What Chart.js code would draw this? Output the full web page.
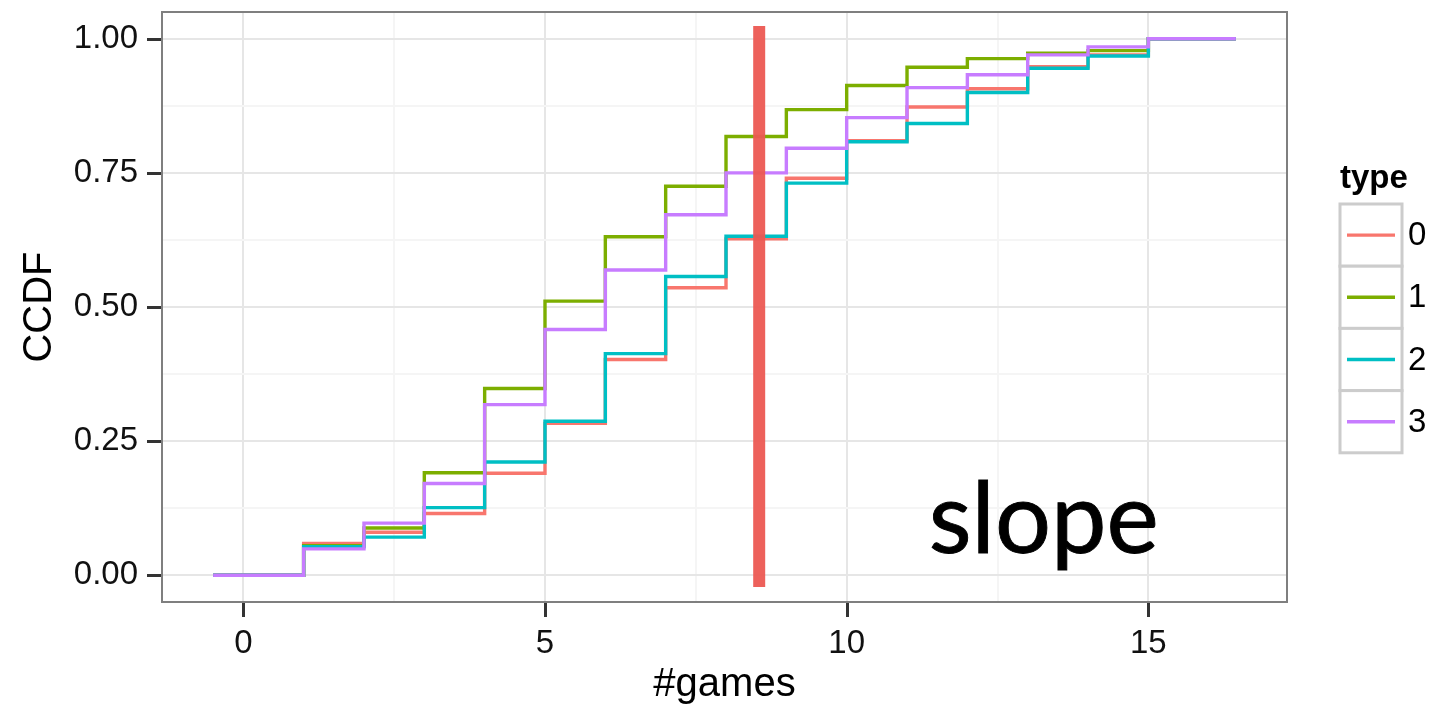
<!DOCTYPE html>
<html>
<head>
<meta charset="utf-8">
<script src="https://cdn.jsdelivr.net/npm/chart.js@4"></script>
<style>
  html, body { margin: 0; padding: 0; background: #fff; }
  #wrap { width: 1441px; height: 710px; }
</style>
</head>
<body>
<div id="wrap"><canvas id="ccdfChart" width="1441" height="710"></canvas></div>
<script>
// step positions (#games) and CCDF value per type
const games = [-0.5, 1, 2, 3, 4, 5, 6, 7, 8, 9, 10, 11, 12, 13, 14, 15, 16.45];
const types = ['0', '1', '2', '3'];
const type0 = [0, 0.059, 0.080, 0.115, 0.190, 0.283, 0.402, 0.536, 0.627, 0.740, 0.810, 0.873, 0.907, 0.948, 0.970, 1, 1];
const type1 = [0, 0.055, 0.088, 0.191, 0.348, 0.511, 0.631, 0.725, 0.818, 0.868, 0.913, 0.947, 0.963, 0.973, 0.978, 1, 1];
const type2 = [0, 0.053, 0.071, 0.126, 0.211, 0.287, 0.413, 0.557, 0.632, 0.731, 0.808, 0.842, 0.900, 0.945, 0.968, 1, 1];
const type3 = [0, 0.049, 0.097, 0.171, 0.318, 0.458, 0.569, 0.672, 0.750, 0.796, 0.853, 0.909, 0.933, 0.970, 0.985, 1, 1];
const typeColors = ['#F8766D', '#7CAE00', '#00BFC4', '#C77CFF'];

// the hand drawn "slope" mark
const slopeX = [8.55, 8.55];
const slopeY = [-0.022, 1.024];
const slopeLabel = 'slope';

const xMajorTicks = [0, 5, 10, 15];
const xMinorTicks = [2.5, 7.5, 12.5];
const yMajorTicks = [0, 0.25, 0.5, 0.75, 1];
const yMinorTicks = [0.125, 0.375, 0.625, 0.875];

const FONT = "'Liberation Sans', Arial, Helvetica, sans-serif";
const allSeries = [type0, type1, type2, type3];

function toPoints(xs, ys) {
    return xs.map((x, i) => ({ x: x, y: ys[i] }));
}

function buildTicks(major, minor) {
    return major.map(v => ({ value: v, major: true }))
        .concat(minor.map(v => ({ value: v, major: false })))
        .sort((a, b) => a.value - b.value);
}

const datasets = allSeries.map((ys, i) => ({
    label: types[i],
    data: toPoints(games, ys),
    borderColor: typeColors[i],
    borderWidth: 3.4,
    stepped: 'before',
    pointRadius: 0,
    fill: false,
    order: types.length - i
}));

datasets.push({
    label: 'slope',
    data: toPoints(slopeX, slopeY),
    borderColor: 'rgba(236, 88, 82, 0.95)',
    borderWidth: 12,
    borderCapStyle: 'butt',
    pointRadius: 0,
    fill: false,
    order: -1
});

// panel border, axis tick marks, "slope" text and ggplot style legend
const decorPlugin = {
    id: 'decor',
    afterDatasetsDraw(chart) {
        const ctx = chart.ctx;
        const a = chart.chartArea;
        const xs = chart.scales.x, ys = chart.scales.y;
        ctx.save();
        ctx.fillStyle = '#000';
        ctx.strokeStyle = '#000';
        ctx.font = "100px Lato, 'Open Sans', sans-serif";
        const w100 = ctx.measureText(slopeLabel).width;
        const size = 100 * 230 / w100;
        ctx.font = size + "px Lato, 'Open Sans', sans-serif";
        ctx.textAlign = 'left';
        ctx.textBaseline = 'alphabetic';
        const tx = xs.getPixelForValue(11.36), ty = ys.getPixelForValue(0.042);
        ctx.lineWidth = 0.9;
        ctx.fillText(slopeLabel, tx, ty);
        ctx.strokeText(slopeLabel, tx, ty);
        ctx.restore();
    },
    afterDraw(chart) {
        const ctx = chart.ctx;
        const a = chart.chartArea;
        const xs = chart.scales.x, ys = chart.scales.y;
        ctx.save();
        ctx.strokeStyle = '#7F7F7F';
        ctx.lineWidth = 2;
        ctx.strokeRect(a.left, a.top, a.right - a.left, a.bottom - a.top);

        // tick marks
        ctx.strokeStyle = '#333333';
        ctx.lineWidth = 3;
        xMajorTicks.forEach(v => {
            const px = Math.round(xs.getPixelForValue(v)) + 0.5;
            ctx.beginPath();
            ctx.moveTo(px, a.bottom + 1);
            ctx.lineTo(px, a.bottom + 15);
            ctx.stroke();
        });
        yMajorTicks.forEach(v => {
            const py = Math.round(ys.getPixelForValue(v)) + 0.5;
            ctx.beginPath();
            ctx.moveTo(a.left - 1, py);
            ctx.lineTo(a.left - 15, py);
            ctx.stroke();
        });

        ctx.fillStyle = '#000';
        ctx.font = 'bold 33px ' + FONT;
        ctx.textAlign = 'left';
        ctx.textBaseline = 'middle';
        ctx.fillText('type', 1340, 179);

        const left = 1340, width = 62, top = 204, rowH = 62.2;
        ctx.font = '33px ' + FONT;
        types.forEach((t, i) => {
            const y0 = top + i * rowH;
            ctx.fillStyle = '#fff';
            ctx.fillRect(left, y0, width, rowH);
            ctx.strokeStyle = '#CCCCCC';
            ctx.lineWidth = 3;
            ctx.strokeRect(left, y0, width, rowH);
            ctx.strokeStyle = typeColors[i];
            ctx.lineWidth = 3.4;
            ctx.beginPath();
            ctx.moveTo(left + 7, y0 + rowH / 2);
            ctx.lineTo(left + 55, y0 + rowH / 2);
            ctx.stroke();
            ctx.fillStyle = '#000';
            ctx.fillText(t, 1408, y0 + rowH / 2 + 1);
        });
        ctx.restore();
    }
};

const gridColor = c => (c.tick && c.tick.major ? '#E6E6E6' : '#F5F5F5');

new Chart(document.getElementById('ccdfChart').getContext('2d'), {
    type: 'line',
    data: { datasets: datasets },
    plugins: [decorPlugin],
    options: {
        responsive: false,
        animation: false,
        layout: { padding: { top: 12, right: 154, left: 0, bottom: 0 } },
        plugins: {
            legend: { display: false },
            tooltip: { enabled: false }
        },
        scales: {
            x: {
                type: 'linear',
                min: -1.3475,
                max: 17.2975,
                afterFit: s => { s.height = 108; s.paddingLeft = 0; s.paddingRight = 0; },
                afterBuildTicks: s => { s.ticks = buildTicks(xMajorTicks, xMinorTicks); },
                border: { display: false },
                grid: { color: gridColor, lineWidth: 2, drawTicks: false },
                ticks: {
                    autoSkip: false,
                    maxRotation: 0,
                    padding: 22,
                    color: '#111',
                    font: { family: FONT, size: 33 },
                    callback: (v, i, ticks) => (ticks[i].major ? String(v) : '')
                },
                title: {
                    display: true,
                    text: '#games',
                    color: '#000',
                    font: { family: FONT, size: 40 },
                    padding: { top: 0, bottom: 1 }
                }
            },
            y: {
                type: 'linear',
                min: -0.05,
                max: 1.05,
                afterFit: s => { s.width = 162; s.paddingTop = 0; s.paddingBottom = 0; },
                afterBuildTicks: s => { s.ticks = buildTicks(yMajorTicks, yMinorTicks); },
                border: { display: false },
                grid: { color: gridColor, lineWidth: 2, drawTicks: false },
                ticks: {
                    autoSkip: false,
                    padding: 24,
                    color: '#111',
                    font: { family: FONT, size: 33 },
                    callback: (v, i, ticks) => (ticks[i].major ? v.toFixed(2) : '')
                },
                title: {
                    display: true,
                    text: 'CCDF',
                    color: '#000',
                    font: { family: FONT, size: 40 },
                    padding: { top: 16, bottom: 0 }
                }
            }
        }
    }
});
</script>
</body>
</html>
